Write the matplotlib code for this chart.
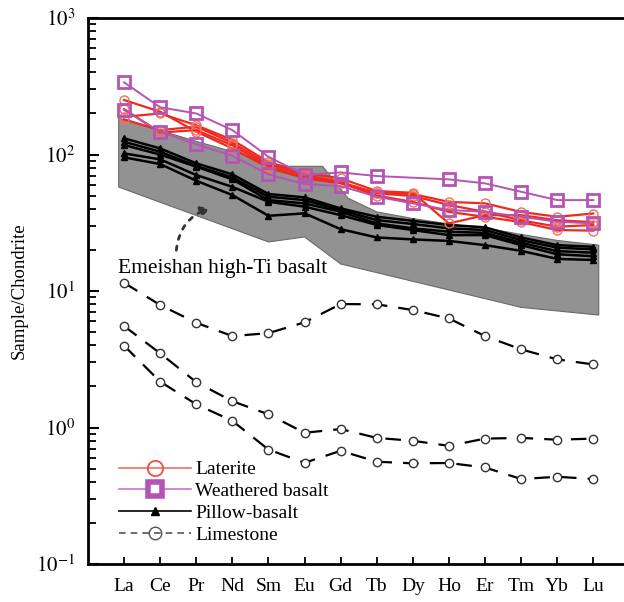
import numpy as np
import matplotlib
matplotlib.use('Agg')
import matplotlib.pyplot as plt
from matplotlib.lines import Line2D

plt.rcParams['font.family'] = ['Liberation Serif', 'DejaVu Serif']
plt.rcParams['mathtext.fontset'] = 'stix'

elements = ['La', 'Ce', 'Pr', 'Nd', 'Sm', 'Eu', 'Gd', 'Tb', 'Dy', 'Ho', 'Er', 'Tm', 'Yb', 'Lu']
nan = np.nan

# Laterite (red, open circles)
laterite = [
    [251, 206, 147, 111, 80, 67, 61.5, 52.5, 51.4, 45.0, 43.9, 38.0, 35.0, 37.0],
    [189, 200, 164, 128, 88, 73, 67.0, 54.0, 52.5, 31.3, 36.0, 36.0, 33.0, 32.0],
    [181, 151, 160, 122, 85, 70.8, 63.0, 52.0, 49.7, 42.7, 38.0, 33.0, 29.6, 30.5],
    [215, 145, 151, 117, 82, 68, 62.0, 50.0, 45.0, 38.0, 35.0, 32.0, 28.0, 27.7],
]

# Weathered basalt (magenta squares)
weathered = [
    [338, 222, 200, 151, 96.4, 70.8, 74.0, 69.6, nan, 65.8, 61.5, 53.4, 46.4, 46.4],
    [212, 147, 119, 98, 71.6, 60.8, 58.8, 49.1, 43.9, 39.2, 38.1, 35.0, 32.2, 31.3],
]

# Pillow-basalt (black triangles)
pillow = [
    [131.5, 110.9, 86.2, 71.6, 51.4, 48.6, 40.3, 35.0, 32.7, 30.5, 29.3, 24.7, 21.7, 21.1],
    [124.0, 104.9, 82.4, 68.0, 49.1, 46.4, 39.2, 33.1, 31.0, 28.8, 28.0, 23.6, 20.8, 20.2],
    [117.4, 100.0, 81.5, 65.8, 46.4, 43.9, 38.1, 31.3, 28.8, 27.2, 26.7, 22.6, 19.6, 19.1],
    [102.0, 92.2, 70.8, 58.0, 45.1, 41.5, 36.0, 30.5, 28.0, 25.7, 25.7, 21.7, 18.6, 18.0],
    [95.4, 85.2, 64.3, 50.5, 35.6, 37.1, 28.4, 24.7, 23.9, 23.3, 21.7, 19.7, 17.2, 16.9],
]

# Limestone (dashed, open circles)
limestone = [
    [11.5, 7.9, 5.86, 4.68, 4.92, 5.9, 8.03, 8.0, 7.26, 6.3, 4.68, 3.74, 3.16, 2.9],
    [5.54, 3.5, 2.15, 1.56, 1.25, 0.916, 0.975, 0.84, 0.80, 0.735, 0.83, 0.84, 0.815, 0.83],
    [3.98, 2.17, 1.48, 1.12, 0.69, 0.552, 0.676, 0.562, 0.547, 0.55, 0.51, 0.42, 0.436, 0.42],
]

# Emeishan high-Ti basalt field outline
band_x = [-0.15, 1, 2, 3, 4, 4.46, 5.5, 6.2, 7, 8, 9, 10, 11, 12, 13.15,
          13.15, 11, 6, 5, 4, -0.15]
band_y = [185, 150, 125, 105, 88, 82, 82, 48, 38, 34, 31, 29, 26, 23.5, 21.7,
          6.67, 7.6, 15.8, 24.9, 22.9, 57.8]

red = '#ee2a1f'
mag = '#b554b5'

fig = plt.figure(figsize=(6.24, 6.02), dpi=100)
ax = fig.add_axes([0.141, 0.063, 0.859, 0.907])
x = np.arange(len(elements))

ax.fill(band_x, band_y, facecolor='#929292', edgecolor='#6a6a6a', lw=0.8, zorder=1)

for s in pillow:
    ax.plot(x, s, color='black', lw=1.8, marker='^', ms=4.5, zorder=3)

for s in laterite:
    ax.plot(x, s, color=red, lw=1.6, marker='o', ms=6.5, mfc='none', mec='#f07060', mew=1.0, zorder=4)

for s in weathered:
    s = np.array(s)
    ok = ~np.isnan(s)
    ax.plot(x[ok], s[ok], color=mag, lw=1.4, marker='s', ms=8, mfc='none', mec=mag, mew=2.0, zorder=5)

for s in limestone:
    ax.plot(x, s, color='black', lw=1.6, dashes=(7, 5), marker='o', ms=6, mfc='white', mec='#333333',
            mew=1.0, zorder=3)

ax.text(-0.17, 14.7, 'Emeishan high-Ti basalt', fontsize=15.5, va='center', ha='left')
ax.annotate('', xy=(2.47, 41), xytext=(1.44, 19.0),
            arrowprops=dict(arrowstyle='-|>', linestyle=(0, (1.5, 2.5)), lw=2, color='#333333',
                            connectionstyle='arc3,rad=-0.35', mutation_scale=14))

ax.set_yscale('log')
ax.set_ylim(0.1, 1000)
ax.set_xlim(-1, 13.85)
ax.set_xticks(x)
ax.set_xticklabels(elements, fontsize=14)
ax.set_yticks([0.1, 1, 10, 100, 1000])
ax.set_yticklabels(['$10^{-1}$', '$10^{0}$', '$10^{1}$', '$10^{2}$', '$10^{3}$'], fontsize=15)
ax.set_ylabel('Sample/Chondrite', fontsize=13.5, labelpad=6)

ax.tick_params(axis='y', which='major', direction='in', length=8, width=1.5, pad=9)
ax.tick_params(axis='y', which='minor', direction='in', length=6, width=1.3)
ax.tick_params(axis='x', which='major', direction='in', length=5, width=1.3, pad=10)
ax.spines['right'].set_visible(False)
for sp in ['left', 'top', 'bottom']:
    ax.spines[sp].set_linewidth(2)

handles = [
    Line2D([], [], color='#f07060', lw=1.2, marker='o', ms=11, mfc='none', mec='#f05040', mew=1.3),
    Line2D([], [], color='#d070d0', lw=1.2, marker='s', ms=10, mfc='white', mec=mag, mew=4),
    Line2D([], [], color='black', lw=1.2, marker='^', ms=6, mfc='black'),
    Line2D([], [], color='#555555', lw=1.2, dashes=(4, 3), marker='o', ms=9, mfc='none', mec='#555555', mew=1.0),
]
labels = ['Laterite', 'Weathered basalt', 'Pillow-basalt', 'Limestone']
ax.legend(handles, labels, loc='upper left', bbox_to_anchor=(0.04, 0.207), frameon=False,
          fontsize=14, handlelength=3.7, handletextpad=0.2, labelspacing=0.22, borderpad=0)

fig.savefig('out.png', dpi=100)
